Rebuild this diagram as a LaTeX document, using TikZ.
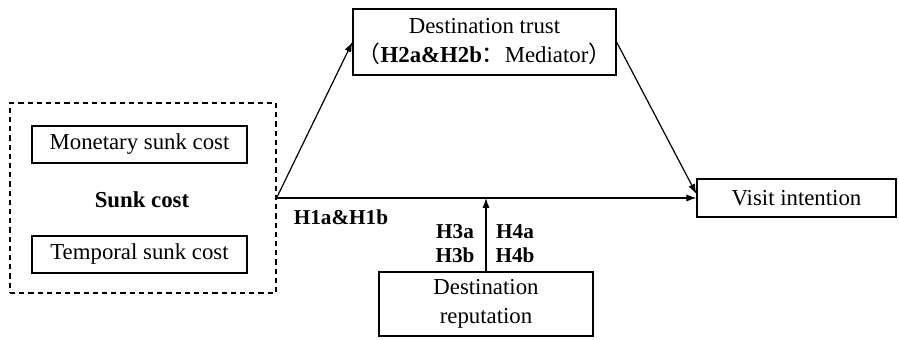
\documentclass[tikz,border=0pt]{standalone}
\usepackage{fontspec}
\setmainfont{Liberation Serif}
\newfontfamily\cjkf{Noto Sans CJK SC}
\usetikzlibrary{arrows.meta}
\begin{document}
\begin{tikzpicture}[x=0.5pt,y=-0.5pt,
  every node/.style={font=\fontsize{11.4}{13.5}\selectfont, inner sep=0pt},
  box/.style={draw, line width=0.6pt, align=center},
  hlab/.style={font=\fontsize{10.6}{12}\selectfont\bfseries},
  conn/.style={line width=0.6pt, -{Latex[length=5pt,width=3.6pt]}}]
\useasboundingbox (0,0) rectangle (899,340);
\node[draw, line width=0.6pt, dash pattern=on 2.6pt off 2pt, minimum width=133pt, minimum height=95pt] (sunk) at (143,198) {};
\node[box, minimum width=107.5pt, minimum height=18.5pt] (mon) at (139.5,144.5) {Monetary sunk cost};
\node[box, minimum width=107.5pt, minimum height=18.5pt] (tem) at (139.5,254.5) {Temporal sunk cost};
\node[font=\fontsize{11.4}{13.5}\selectfont\bfseries] (sc) at (142,200) {Sunk cost};
\node[box, minimum width=131.5pt, minimum height=33pt] (trust) at (484.5,42) {Destination trust\\[1pt]{\cjkf （}\textbf{H2a\&H2b}{\cjkf ：}Mediator{\cjkf ）}};
\node[box, minimum width=99.5pt, minimum height=19pt] (visit) at (796.5,198) {Visit intention};
\node[box, minimum width=107pt, minimum height=32pt] (rep) at (486,304) {Destination\\[0.8pt]reputation};
\coordinate (j) at (sunk.east);
\coordinate (m) at (rep.north |- j);
\node[hlab] (h1) at (341,217) {H1a\&H1b};
\node[hlab] (h3a) at (455,232) {H3a};
\node[hlab] (h3b) at (455,255) {H3b};
\node[hlab] (h4a) at (515,232) {H4a};
\node[hlab] (h4b) at (515,255) {H4b};
\draw[conn] (j) -- (trust.west);
\draw[conn] (trust.east) -- ([yshift=2pt]visit.west);
\draw[conn] (j) -- (visit.west);
\draw[conn] (rep.north) -- (m);
\end{tikzpicture}
\end{document}
